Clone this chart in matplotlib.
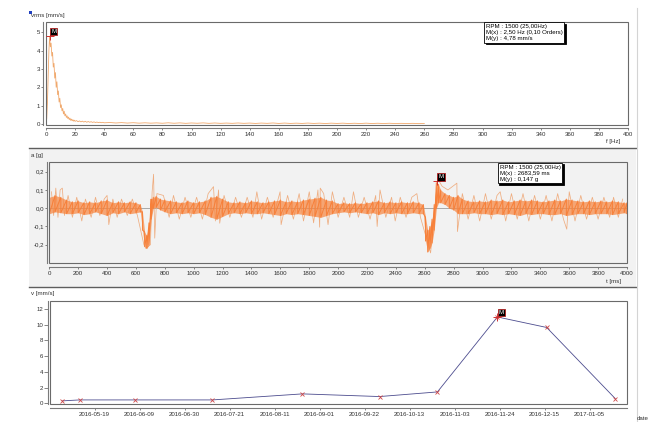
import matplotlib
matplotlib.use("Agg")
import matplotlib.pyplot as plt
import matplotlib.dates as mdates
from matplotlib.patches import Rectangle
from matplotlib.lines import Line2D
import numpy as np

plt.rcParams['font.family'] = ['Liberation Sans', 'DejaVu Sans']

# -----------------------------
# DATA: spectrum (vrms)
# -----------------------------
f_head = [0, 0.5, 1, 1.5, 2, 2.5, 3, 3.5, 4, 4.5, 5, 5.5, 6, 6.5, 7, 7.5, 8, 8.5, 9, 9.5,
          10, 10.5, 11, 11.5, 12, 12.5, 13, 13.5, 14, 14.5, 15, 15.5, 16, 16.5, 17, 17.5,
          18, 18.5, 19, 19.5, 20,
          21, 22, 23, 24, 25, 26, 27, 28, 29, 30, 31, 32, 33, 34, 35, 36, 37, 38, 39, 40]
v_head = [0.0, 0.3, 1.2, 2.6, 4.0, 4.78, 4.2, 4.4, 3.7, 3.9, 3.1, 3.3, 2.5, 2.8, 2.0, 2.3,
          1.6, 1.8, 1.2, 1.4, 0.9, 1.05, 0.72, 0.85, 0.55, 0.7, 0.45, 0.55, 0.36, 0.45,
          0.3, 0.38, 0.24, 0.32, 0.2, 0.27, 0.18, 0.24, 0.16, 0.21, 0.15,
          0.19, 0.13, 0.17, 0.12, 0.16, 0.11, 0.15, 0.10, 0.14, 0.10, 0.13, 0.09, 0.12,
          0.085, 0.11, 0.08, 0.10, 0.075, 0.095, 0.07]
f_tail = list(range(44, 261, 4))
v_tail = [0.085, 0.06, 0.08, 0.055, 0.075, 0.05, 0.07, 0.05, 0.065, 0.045, 0.07, 0.045,
          0.065, 0.04, 0.06, 0.045, 0.065, 0.04, 0.06, 0.04, 0.055, 0.04, 0.06, 0.04,
          0.055, 0.035, 0.055, 0.04, 0.06, 0.035, 0.055, 0.035, 0.05, 0.035, 0.055, 0.035,
          0.05, 0.03, 0.05, 0.035, 0.05, 0.03, 0.045, 0.03, 0.05, 0.03, 0.045, 0.03,
          0.045, 0.03, 0.04, 0.03, 0.04, 0.025, 0.03]

# -----------------------------
# DATA: time signal (a)
# -----------------------------
t_env = [0, 40, 80, 120, 160, 200, 240, 280, 320, 360, 400, 440, 480, 520, 560, 600, 630,
         645, 660, 675, 690, 705, 720, 740, 770,
         800, 840, 880, 920, 960, 1000, 1040, 1080, 1120, 1160, 1200, 1240, 1280, 1320, 1360,
         1400, 1440, 1480, 1520, 1560, 1600, 1640, 1680, 1720, 1760, 1800, 1840, 1880, 1920,
         1960, 2000, 2040, 2080, 2120, 2160, 2200, 2240, 2280, 2320, 2360, 2400, 2440, 2480,
         2520, 2560, 2590,
         2605, 2620, 2635, 2650, 2665, 2680, 2695, 2710, 2740, 2770, 2800, 2830, 2860,
         2900, 2940, 2980, 3020, 3060, 3100, 3140, 3180, 3220, 3260, 3300, 3340, 3380, 3420,
         3460, 3500, 3540, 3580, 3620, 3660, 3700, 3740, 3780, 3820, 3860, 3900, 3940, 3980,
         4000]
a_hi = [0.06, 0.07, 0.06, 0.045, 0.035, 0.04, 0.03, 0.035, 0.03, 0.04, 0.045, 0.03, 0.035,
        0.03, 0.035, 0.03, 0.02,
        -0.02, -0.13, -0.15, -0.08, 0.05, 0.06, 0.065, 0.05,
        0.045, 0.04, 0.035, 0.03, 0.04, 0.03, 0.035, 0.04, 0.06, 0.065, 0.05, 0.035, 0.03,
        0.035, 0.03, 0.04, 0.035, 0.03, 0.035, 0.04, 0.045, 0.035, 0.04, 0.035, 0.045, 0.05,
        0.055, 0.06, 0.045, 0.04, 0.025, 0.03, 0.025, 0.03, 0.025, 0.03, 0.035, 0.04, 0.03,
        0.035, 0.03, 0.035, 0.03, 0.035, 0.03, 0.02,
        -0.05, -0.12, -0.1, -0.06, 0.02, 0.14, 0.13, 0.1, 0.08, 0.07, 0.06, 0.07, 0.05,
        0.04, 0.035, 0.04, 0.035, 0.045, 0.04, 0.045, 0.035, 0.04, 0.045, 0.04, 0.045, 0.04,
        0.035, 0.04, 0.045, 0.04, 0.05, 0.045, 0.04, 0.035, 0.04, 0.035, 0.04, 0.035, 0.04,
        0.035, 0.03, 0.03]
a_lo = [-0.03, -0.02, -0.025, -0.03, -0.03, -0.025, -0.035, -0.03, -0.02, -0.03, -0.04,
        -0.025, -0.03, -0.02, -0.03, -0.025, -0.02,
        -0.12, -0.21, -0.22, -0.2, -0.06, 0.0, 0.005, -0.01,
        -0.02, -0.03, -0.025, -0.03, -0.025, -0.03, -0.025, -0.035, -0.05, -0.06, -0.045,
        -0.03, -0.025, -0.03, -0.025, -0.03, -0.03, -0.025, -0.03, -0.035, -0.04, -0.03,
        -0.035, -0.03, -0.035, -0.04, -0.045, -0.05, -0.04, -0.03, -0.025, -0.02, -0.025,
        -0.02, -0.025, -0.03, -0.025, -0.035, -0.025, -0.03, -0.025, -0.03, -0.03, -0.025,
        -0.03, -0.03,
        -0.18, -0.24, -0.22, -0.19, -0.12, 0.0, 0.03, 0.03, 0.02, 0.0, -0.01, -0.03, -0.03,
        -0.03, -0.025, -0.03, -0.03, -0.035, -0.03, -0.035, -0.03, -0.035, -0.04, -0.03,
        -0.035, -0.03, -0.03, -0.035, -0.035, -0.03, -0.04, -0.035, -0.03, -0.03, -0.035,
        -0.03, -0.03, -0.03, -0.035, -0.03, -0.025, -0.03]

spike_t = [15, 30, 45, 60, 75, 90, 105, 130, 160, 190, 225, 250, 290, 320, 350, 380, 400,
           412, 440, 470, 500, 540, 575, 610, 655, 668, 700, 712, 722, 730, 745, 790, 830,
           860, 900, 940, 980, 1020, 1060, 1100, 1137, 1150, 1172, 1180, 1210, 1250, 1290,
           1330, 1370, 1410, 1437, 1470, 1510, 1550, 1598, 1605, 1650, 1690, 1730, 1760,
           1800, 1830, 1860, 1872, 1876, 1900, 1930, 1960, 2000, 2040, 2080, 2106, 2140,
           2180, 2221, 2260, 2270, 2290, 2330, 2370, 2395, 2430, 2470, 2510, 2545, 2570,
           2640, 2690, 2720, 2760, 2822, 2826, 2860, 2900, 2940, 2980, 3020, 3060, 3100,
           3122, 3160, 3200, 3240, 3280, 3320, 3360, 3400, 3440, 3480, 3520, 3560, 3583,
           3600, 3640, 3680, 3720, 3760, 3800, 3840, 3880, 3907, 3940, 3970]
spike_v = [0.09, -0.04, 0.11, -0.05, 0.1, 0.11, -0.04, 0.07, -0.05, 0.06, -0.07, 0.05,
           -0.05, 0.06, -0.04, 0.05, 0.07, -0.09, 0.05, -0.05, 0.05, -0.04, 0.05, -0.04,
           -0.2, -0.22, -0.2, 0.09, 0.186, -0.164, 0.08, 0.07, -0.05, 0.07, -0.06, 0.06,
           -0.05, 0.06, -0.06, 0.08, 0.118, -0.07, 0.1, -0.082, 0.07, -0.05, 0.06, -0.05,
           0.06, -0.05, 0.09, -0.06, 0.06, -0.05, 0.09, -0.09, 0.07, -0.06, 0.08, -0.07,
           0.09, -0.08, 0.1, -0.104, 0.11, 0.08, -0.09, 0.09, -0.05, 0.06, -0.05, 0.09,
           -0.05, 0.06, -0.06, 0.07, -0.1, 0.1, -0.05, 0.06, -0.07, 0.06, -0.05, 0.06, 0.08,
           -0.05, -0.245, 0.16, 0.12, 0.1, 0.137, -0.128, 0.08, -0.06, 0.07, -0.07, 0.08,
           -0.06, 0.07, 0.09, -0.07, 0.08, -0.06, 0.08, -0.07, 0.07, -0.06, 0.07, -0.07,
           0.08, -0.06, -0.115, 0.09, -0.07, 0.07, -0.06, 0.06, -0.06, 0.06, -0.05, 0.06,
           -0.05, 0.05]

# -----------------------------
# DATA: trend (v)
# -----------------------------
trend_dates = ['2016-05-04', '2016-05-12', '2016-06-07', '2016-07-13', '2016-08-24',
               '2016-09-29', '2016-10-26', '2016-11-23', '2016-12-16', '2017-01-17']
trend_v = [0.30, 0.42, 0.42, 0.42, 1.19, 0.85, 1.44, 11.0, 9.66, 0.59]
date_ticks = ['2016-05-19', '2016-06-09', '2016-06-30', '2016-07-21', '2016-08-11',
              '2016-09-01', '2016-09-22', '2016-10-13', '2016-11-03', '2016-11-24',
              '2016-12-15', '2017-01-05']

# -----------------------------
# FIGURE / LAYOUT (pixels)
# -----------------------------
W, H = 652, 422
fig = plt.figure(figsize=(W / 100, H / 100), dpi=100)
fig.patch.set_facecolor('white')

FS = 4.4
TXT = '#303030'


def fx(x):
    return x / W


def fy(y):
    return 1 - y / H


def px_axes(l, t, r, b):
    return fig.add_axes([fx(l), fy(b), (r - l) / W, (b - t) / H])


def style(ax, off_left, off_bottom, ylen=1.2, ypad=0.6):
    ax.patch.set_alpha(0)
    for s in ax.spines.values():
        s.set_visible(False)
    for name, off in (('left', off_left), ('bottom', off_bottom)):
        sp = ax.spines[name]
        sp.set_visible(True)
        sp.set_position(('outward', off * 0.72))
        sp.set_color('#7a7a7a')
        sp.set_linewidth(0.8)
    ax.add_patch(Rectangle((0, 0), 1, 1, transform=ax.transAxes, fill=False,
                           ec='#6a6a6a', lw=0.8, clip_on=False, zorder=10))
    ax.tick_params(axis='x', direction='out', length=1.5, width=0.5, pad=1.3,
                   labelsize=FS, colors='#555555', labelcolor=TXT)
    ax.tick_params(axis='y', direction='out', length=ylen, width=0.5, pad=ypad,
                   labelsize=FS, colors='#555555', labelcolor=TXT)


def marker_m(ax, x, y):
    ax.plot([x], [y], marker='+', ms=6, mew=0.7, color='#d03030', zorder=11, clip_on=False)
    ax.annotate('M', (x, y), xytext=(4, 4.5), textcoords='offset pixels',
                ha='center', va='center', fontsize=FS, color='white', zorder=12,
                annotation_clip=False,
                bbox=dict(boxstyle='square,pad=0.2', fc='black', ec='#b02020', lw=0.6))


def info_box(x, y, text):
    fig.text(fx(x + 1.5), fy(y + 1.5), text, fontsize=FS, color='none', va='top',
             ha='left', linespacing=1.25, zorder=20,
             bbox=dict(boxstyle='square,pad=0.25', fc='black', ec='black', lw=0.6))
    fig.text(fx(x), fy(y), text, fontsize=FS, color='black', va='top', ha='left',
             linespacing=1.25, zorder=21,
             bbox=dict(boxstyle='square,pad=0.25', fc='white', ec='black', lw=0.6))


# background band of the middle panel (drawn under the axes)
fig.patches.append(Rectangle((fx(29), fy(287)), (636 - 29) / W, (287 - 148) / H,
                             transform=fig.transFigure, fc='#f2f2f2', ec='none', zorder=-2))
for yy in (148, 287):
    fig.lines.append(Line2D([fx(29), fx(636)], [fy(yy), fy(yy)], transform=fig.transFigure,
                            color='#5e5e5e', lw=1.0, zorder=-1))
fig.lines.append(Line2D([fx(636.5), fx(636.5)], [fy(8), fy(422)], transform=fig.transFigure,
                        color='#d4d4d4', lw=0.8, zorder=-1))
fig.patches.append(Rectangle((fx(29), fy(13.5)), 2.5 / W, 2.5 / H, transform=fig.transFigure,
                             fc='#2040c0', ec='none', zorder=-1))

# -----------------------------
# TOP: spectrum
# -----------------------------
ax1 = px_axes(46, 22, 628, 125)
style(ax1, 3.2, 3.0)
ax1.plot(f_head + f_tail, v_head + v_tail, color='#f0a86c', lw=0.6, zorder=3)
ax1.set_xlim(0, 400)
ax1.set_ylim(-0.05, 5.55)
ax1.set_xticks(np.arange(0, 401, 20))
ax1.set_yticks(range(0, 6))
marker_m(ax1, 2.5, 4.78)
fig.text(fx(31), fy(15.5), 'vrms [mm/s]', fontsize=FS, color=TXT, va='center')
fig.text(fx(606), fy(142), 'f [Hz]', fontsize=FS, color=TXT, va='center')
info_box(486, 24, 'RPM : 1500 (25,00Hz)\nM(x) : 2,50 Hz (0,10 Orders)\nM(y) : 4,78 mm/s')

# -----------------------------
# MIDDLE: time signal
# -----------------------------
ax2 = px_axes(49.3, 162, 627, 263)
style(ax2, 2.0, 4.0, ylen=1.5, ypad=0.8)
ax2.axhline(0, color='#8c8c8c', lw=0.5, zorder=1)
ax2.plot(spike_t, spike_v, color='#efad80', lw=0.55, zorder=2)
ax2.fill_between(t_env, a_lo, a_hi, color='#f7853f', alpha=0.7, lw=0, zorder=3)
# core drawn as strokes between upper and lower envelope at each sample
zz_t = np.repeat(t_env, 2)
zz_v = np.column_stack([a_hi, a_lo]).ravel()
ax2.plot(zz_t, zz_v, color='#f7803a', lw=0.7, zorder=4)
ax2.set_xlim(0, 4000)
ax2.set_ylim(-0.3, 0.253)
ax2.set_xticks(np.arange(0, 4001, 200))
y2_ticks = [-0.2, -0.1, 0.0, 0.1, 0.2]
y2_labels = ['-0,2', '-0,1', '0,0', '0,1', '0,2']
ax2.set_yticks(y2_ticks)
ax2.set_yticklabels(y2_labels)
marker_m(ax2, 2683.59, 0.147)
fig.text(fx(31), fy(155.5), 'a [g]', fontsize=FS, color=TXT, va='center')
fig.text(fx(606), fy(281), 't [ms]', fontsize=FS, color=TXT, va='center')
info_box(499.5, 164.5, 'RPM : 1500 (25,00Hz)\nM(x) : 2683,59 ms\nM(y) : 0,147 g')

# -----------------------------
# BOTTOM: trend
# -----------------------------
ax3 = px_axes(50, 300.5, 626.5, 404)
style(ax3, 1.8, 3.7, ylen=3.0, ypad=0.5)
d_num = mdates.datestr2num(trend_dates)
ax3.plot(d_num, trend_v, color='#4c4c8e', lw=0.6, zorder=3)
ax3.plot(d_num, trend_v, ls='none', marker='x', ms=2.6, mew=0.6, color='#d04848', zorder=4)
ax3.set_xlim(mdates.datestr2num('2016-04-28 04:00'), mdates.datestr2num('2017-01-22 06:00'))
ax3.set_ylim(-0.1, 13.1)
ax3.set_xticks(mdates.datestr2num(date_ticks))
ax3.set_xticklabels(date_ticks)
ax3.set_yticks(range(0, 13, 2))
marker_m(ax3, d_num[7], trend_v[7])
fig.text(fx(31), fy(294), 'v [mm/s]', fontsize=FS, color=TXT, va='center')
fig.text(fx(637), fy(419), 'date', fontsize=FS, color=TXT, va='center')

fig.savefig('out.png', dpi=100)
